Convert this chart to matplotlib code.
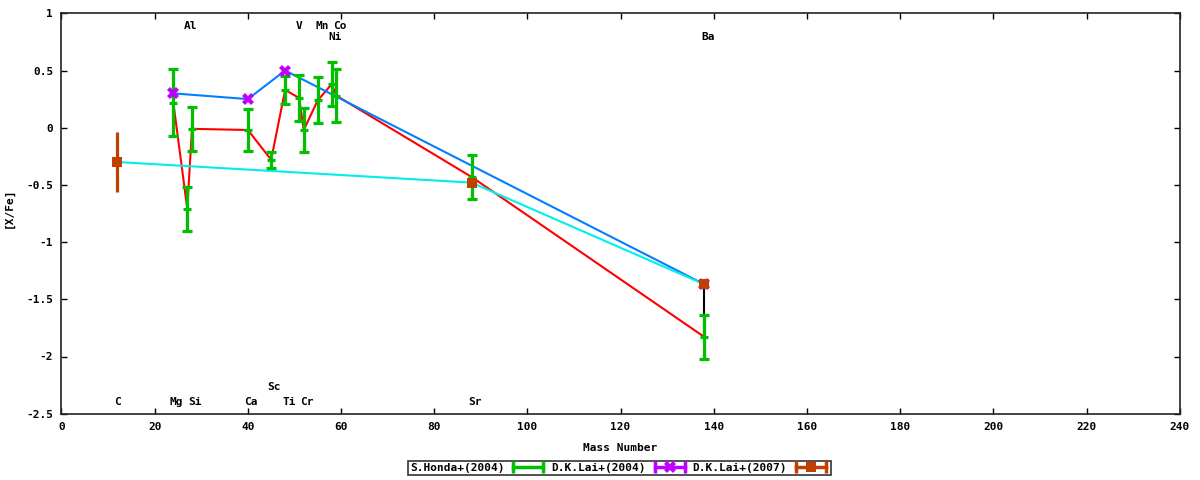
import matplotlib
matplotlib.use("Agg")
import matplotlib.pyplot as plt
from matplotlib.lines import Line2D
from matplotlib.legend_handler import HandlerLine2D, HandlerTuple

# ---- data ----
honda_mass = [24, 27, 28, 40, 45, 48, 51, 52, 55, 58, 59, 88, 138]
honda_val = [0.22, -0.71, -0.01, -0.02, -0.28, 0.33, 0.26, -0.02, 0.24, 0.38, 0.28, -0.43, -1.83]
honda_err = [0.29, 0.19, 0.19, 0.18, 0.07, 0.12, 0.20, 0.19, 0.20, 0.19, 0.23, 0.19, 0.19]

lai04_mass = [24, 40, 48, 138]
lai04_val = [0.30, 0.25, 0.50, -1.37]
lai04_err = [0.0, 0.0, 0.0, 0.0]

lai07_mass = [12, 88, 138]
lai07_val = [-0.30, -0.48, -1.37]
lai07_err = [0.26, 0.0, 0.0]

# element labels: name, x, y
label_names = ["Al", "V", "Mn", "Co", "Ni", "Ba",
               "C", "Mg", "Si", "Ca", "Sc", "Ti", "Cr", "Sr"]
label_x = [27.6, 50.9, 55.9, 59.8, 58.8, 138.8,
           12.0, 24.6, 28.6, 40.7, 45.7, 48.8, 52.7, 88.7]
label_y = [0.89, 0.89, 0.89, 0.89, 0.79, 0.79,
           -2.40, -2.40, -2.40, -2.40, -2.27, -2.40, -2.40, -2.40]

x_ticks = list(range(0, 241, 20))
y_ticks = [-2.5, -2, -1.5, -1, -0.5, 0, 0.5, 1]
y_tick_labels = ["-2.5", "-2", "-1.5", "-1", "-0.5", "0", "0.5", "1"]

GREEN = "#00c000"
PURPLE = "#c000ff"
BROWN = "#c04000"
RED = "#ff0000"
BLUE = "#0080ff"
CYAN = "#00eeee"

plt.rcParams["font.family"] = ["DejaVu Sans Mono"]
plt.rcParams["font.weight"] = "bold"
FS = 8

fig = plt.figure(figsize=(12, 4.8), dpi=100)
ax = fig.add_axes([61.5 / 1200, 1 - 413.7 / 480, (1179.7 - 61.5) / 1200, (413.7 - 13.3) / 480])

# connecting lines
ax.plot(honda_mass, honda_val, color=RED, lw=1.5, zorder=2)
ax.plot(lai04_mass, lai04_val, color=BLUE, lw=1.5, zorder=2)
ax.plot(lai07_mass, lai07_val, color=CYAN, lw=1.5, zorder=2)
ax.plot([lai07_mass[-1], honda_mass[-1]], [lai07_val[-1], honda_val[-1]], color="black", lw=1.5, zorder=2)

# error bars
ax.errorbar(honda_mass, honda_val, yerr=honda_err, fmt="_", color=GREEN, ecolor=GREEN,
            elinewidth=2.3, capsize=3.5, capthick=2.3, ms=6, mew=2.3, zorder=3)
ax.errorbar(lai04_mass, lai04_val, yerr=lai04_err, fmt="X", color=PURPLE, ecolor=PURPLE,
            elinewidth=2.3, capsize=3.5, capthick=2.3, ms=8, mew=0, zorder=4)
ax.errorbar(lai07_mass, lai07_val, yerr=lai07_err, fmt="s", color=BROWN, ecolor=BROWN,
            elinewidth=2.3, capsize=3.5, capthick=2.3, ms=7, mew=0, zorder=5)

for n, x, y in zip(label_names, label_x, label_y):
    ax.text(x, y, n, ha="center", va="center", fontsize=FS, fontweight="bold")

ax.set_xlim(0, 240)
ax.set_ylim(-2.5, 1)
ax.set_xticks(x_ticks)
ax.set_xticklabels([str(t) for t in x_ticks])
ax.set_yticks(y_ticks)
ax.set_yticklabels(y_tick_labels)
ax.tick_params(direction="in", length=4, width=1, top=True, right=True,
               labelsize=FS, pad=6)
for t in ax.get_xticklabels() + ax.get_yticklabels():
    t.set_fontweight("bold")
for s in ax.spines.values():
    s.set_linewidth(1.2)
    s.set_color("#222222")

ax.set_xlabel("Mass Number", fontsize=FS, fontweight="bold", labelpad=8)
ax.set_ylabel("[X/Fe]", fontsize=FS, fontweight="bold")
ax.yaxis.set_label_coords((14 - 61.5) / 1118.2, (413.7 - 207.5) / 400.4)

# legend: text then errorbar sample
def sample(color, marker, ms):
    caps = Line2D([], [], color=color, lw=2.5, marker="|", ms=8, mew=2.5)
    mid = Line2D([], [], color=color, lw=0, marker=marker, ms=ms, mew=0)
    return caps, mid

c1, m1 = sample(GREEN, "None", 7)
c2, m2 = sample(PURPLE, "X", 8)
c3, m3 = sample(BROWN, "s", 7)
hmap = {c1: HandlerLine2D(numpoints=2), c2: HandlerLine2D(numpoints=2), c3: HandlerLine2D(numpoints=2),
        m1: HandlerLine2D(numpoints=1), m2: HandlerLine2D(numpoints=1), m3: HandlerLine2D(numpoints=1),
        tuple: HandlerTuple(ndivide=1, pad=0)}
leg = fig.legend([(c1, m1), (c2, m2), (c3, m3)],
                 ["S.Honda+(2004)", "D.K.Lai+(2004)", "D.K.Lai+(2007)"],
                 handler_map=hmap, loc="center", bbox_to_anchor=(619.5 / 1200, 1 - 468 / 480),
                 ncol=3, markerfirst=False, fancybox=False, frameon=True, edgecolor="black",
                 fontsize=FS, borderpad=0.15, handlelength=3.3, handletextpad=0.5,
                 columnspacing=0.4, borderaxespad=0, handleheight=0.6)
leg.get_frame().set_linewidth(1.2)
for t in leg.get_texts():
    t.set_fontweight("bold")

fig.savefig("out.png", dpi=100)
